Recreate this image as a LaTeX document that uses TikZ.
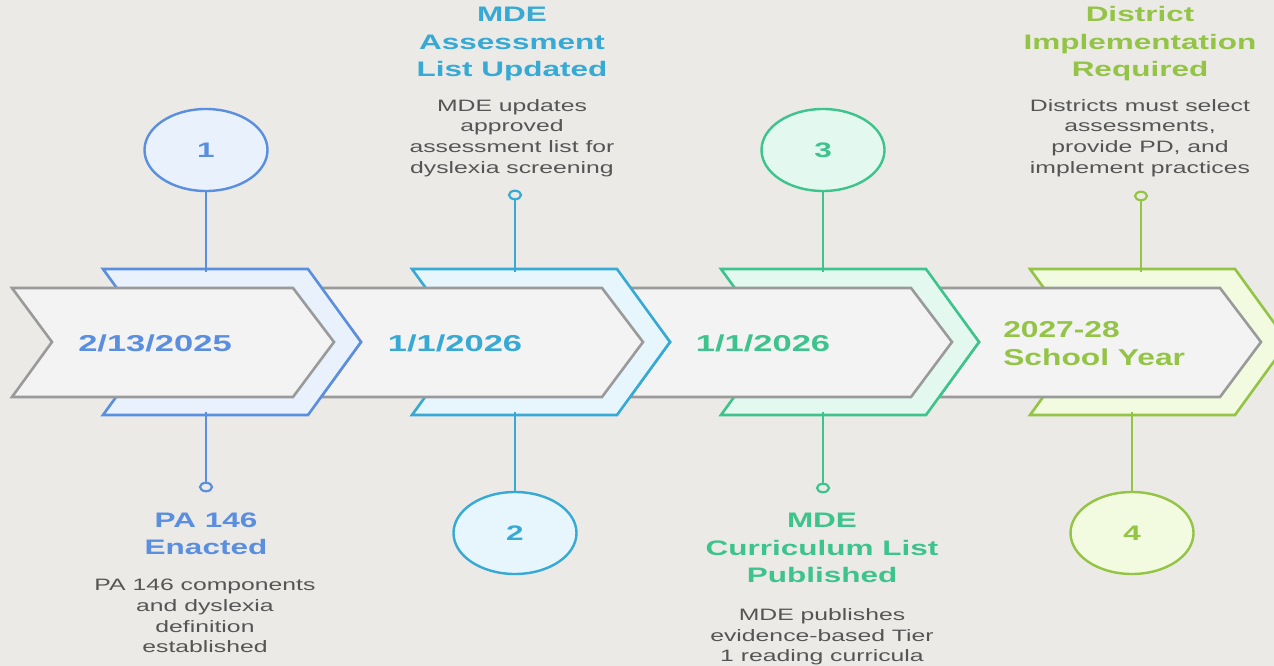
\documentclass[tikz,border=0pt]{standalone}
\usepackage{fontspec}
\setmainfont{Liberation Sans}
\usetikzlibrary{shapes.geometric}
\definecolor{bg}{HTML}{ECEAE6}
\definecolor{grayS}{HTML}{9A9A9A}
\definecolor{grayF}{HTML}{F3F3F3}
\definecolor{descC}{HTML}{555555}
\definecolor{cA}{HTML}{5A8EDF}\definecolor{fA}{HTML}{E9F1FC}
\definecolor{cB}{HTML}{36A9D4}\definecolor{fB}{HTML}{E6F6FC}
\definecolor{cC}{HTML}{3DC38C}\definecolor{fC}{HTML}{E3F9EF}
\definecolor{cD}{HTML}{93C445}\definecolor{fD}{HTML}{F2FADF}
\tikzset{
  grayarr/.style={draw=grayS, fill=grayF, line width=2.6pt, line join=miter},
  chev/.style={draw=#1, line width=2.6pt, line join=miter},
  conn/.style={draw=#1, line width=2.6pt},
  bigdot/.style={ellipse, draw=#1, line width=2.4pt, minimum width=123pt, minimum height=82pt, inner sep=0pt, text=#1, font=\fontsize{21}{24}\selectfont\bfseries},
  smalldot/.style={ellipse, draw=#1, line width=2.2pt, fill=bg, minimum width=12pt, minimum height=8.5pt, inner sep=0pt},
  ttl/.style={text=#1, font=\fontsize{21}{27.5}\selectfont\bfseries, align=center, inner sep=0pt, xscale=1.5},
  dsc/.style={text=descC, font=\fontsize{16.5}{20.7}\selectfont, align=center, inner sep=0pt, xscale=1.5},
  datelbl/.style={text=#1, font=\fontsize{23}{28}\selectfont\bfseries, inner sep=0pt, xscale=1.5},
}
\begin{document}
\begin{tikzpicture}[x=1pt,y=-1pt]
\useasboundingbox (0,0) rectangle (1274,666);
\fill[bg] (0,0) rectangle (1274,666);
\clip (0,0) rectangle (1274,666);
% shapes, drawn from last to first
\foreach \i/\c/\f in {3/cD/fD,2/cC/fC,1/cB/fB,0/cA/fA}{
  \draw[chev=\c, fill=\f] (103+309*\i,269) -- (308+309*\i,269) -- (361+309*\i,342) -- (308+309*\i,415) -- (103+309*\i,415) -- (156+309*\i,342) -- cycle;
  \draw[grayarr] (12+309*\i,288) -- (293+309*\i,288) -- (334+309*\i,342) -- (293+309*\i,397) -- (12+309*\i,397) -- (52+309*\i,342) -- cycle;
}
% anchor points on the chevrons
\coordinate (t1) at (206,272); \coordinate (b1) at (206,412);
\coordinate (t2) at (515,272); \coordinate (b2) at (515,412);
\coordinate (t3) at (823,272); \coordinate (b3) at (823,412);
\coordinate (t4) at (1141,272); \coordinate (b4) at (1132,412);
% markers
\node[bigdot=cA, fill=fA] (e1) at (206,150) {\scalebox{1.5}[1]{1}};
\node[bigdot=cB, fill=fB] (e2) at (515,533) {\scalebox{1.5}[1]{2}};
\node[bigdot=cC, fill=fC] (e3) at (823,150) {\scalebox{1.5}[1]{3}};
\node[bigdot=cD, fill=fD] (e4) at (1132,533) {\scalebox{1.5}[1]{4}};
\node[smalldot=cA] (s1) at (206,487) {};
\node[smalldot=cB] (s2) at (515,195) {};
\node[smalldot=cC] (s3) at (823,488) {};
\node[smalldot=cD] (s4) at (1141,196) {};
% connectors
\draw[conn=cA] (e1) -- (t1); \draw[conn=cA] (b1) -- (s1);
\draw[conn=cB] (s2) -- (t2); \draw[conn=cB] (b2) -- (e2);
\draw[conn=cC] (e3) -- (t3); \draw[conn=cC] (b3) -- (s3);
\draw[conn=cD] (s4) -- (t4); \draw[conn=cD] (b4) -- (e4);
% dates
\node[datelbl=cA] (d1) at (155,343) {2/13/2025};
\node[datelbl=cB] (d2) at (455,343) {1/1/2026};
\node[datelbl=cC] (d3) at (763,343) {1/1/2026};
\node[datelbl=cD, xscale=0.92, align=left, anchor=west] (d4) at (1003,344) {2027-28\\School Year};
% titles
\node[ttl=cA] (h1) at (206,534) {PA 146\\Enacted};
\node[ttl=cB] (h2) at (512,44) {MDE\\Assessment\\List Updated};
\node[ttl=cC] (h3) at (822,548) {MDE\\Curriculum List\\Published};
\node[ttl=cD] (h4) at (1140,44) {District\\Implementation\\Required};
% descriptions
\node[dsc] (p1) at (205,616) {PA 146 components\\and dyslexia\\definition\\established};
\node[dsc] (p2) at (512,138) {MDE updates\\approved\\assessment list for\\dyslexia screening};
\node[dsc] (p3) at (822,637) {MDE publishes\\evidence-based Tier\\1 reading curricula};
\node[dsc] (p4) at (1140,138) {Districts must select\\assessments,\\provide PD, and\\implement practices};
\end{tikzpicture}
\end{document}
